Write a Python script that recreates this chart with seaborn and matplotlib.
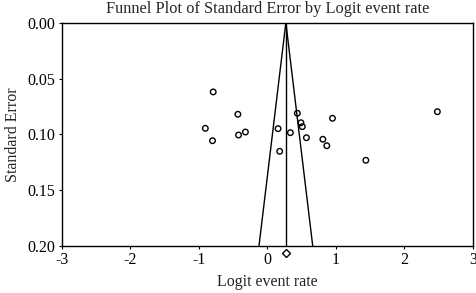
import numpy as np
import pandas as pd
import matplotlib
matplotlib.use("Agg")
import matplotlib.pyplot as plt
import seaborn as sns

# Study data (logit event rate, standard error)
logit_rate = [-0.79, -0.43, -0.905, -0.80, -0.42, -0.32, 0.156, 0.18, 0.336,
              0.438, 0.49, 0.51, 0.57, 0.81, 0.867, 0.95, 2.48, 1.437]
std_err = [0.062, 0.082, 0.0946, 0.1057, 0.1006, 0.0979, 0.0949, 0.1152, 0.0985,
           0.0811, 0.0896, 0.0931, 0.103, 0.1044, 0.1102, 0.0856, 0.0797, 0.1232]
pooled = 0.27
se_max = 0.20
x_ticks = [-3, -2, -1, 0, 1, 2, 3]
y_ticks = [0.00, 0.05, 0.10, 0.15, 0.20]

sns.set_style("ticks")
plt.rcParams['font.family'] = ['Liberation Serif', 'DejaVu Serif']

fig = plt.figure(figsize=(4.76, 2.93), dpi=100)
ax = fig.add_axes([0.1296, 0.1604, 0.8641, 0.7621])

df = pd.DataFrame({"x": logit_rate, "y": std_err})
sns.scatterplot(data=df, x="x", y="y", ax=ax, marker="o", s=16,
                facecolor="none", edgecolor="black", linewidth=1.0, zorder=3)

funnel = pd.DataFrame({
    "x": [pooled - 1.96 * se_max, pooled, pooled + 1.96 * se_max],
    "y": [se_max, 0.0, se_max],
})
ax.plot(funnel["x"], funnel["y"], color="black", lw=1.0)
ax.plot([pooled, pooled], [0.0, se_max], color="black", lw=1.0)
ax.plot([pooled], [se_max + 0.0063], marker="D", ms=4, mfc="none", mec="black",
        mew=1.0, clip_on=False, ls="none")

ax.set_xlim(-3, 3)
ax.set_ylim(se_max, 0.0)
ax.set_xticks(x_ticks)
ax.set_xticklabels([str(t) for t in x_ticks])
ax.set_yticks(y_ticks)
ax.set_yticklabels([f"{t:.2f}" for t in y_ticks])
ax.tick_params(direction="out", length=2.5, width=0.8, labelsize=11.5, pad=2,
               colors="black")
for s in ax.spines.values():
    s.set_visible(True)
    s.set_linewidth(1.0)
    s.set_color("black")

ax.set_xlabel("Logit event rate", fontsize=11.5, labelpad=4)
ax.set_ylabel("Standard Error", fontsize=11.5, labelpad=5)
ax.set_title("Funnel Plot of Standard Error by Logit event rate", fontsize=11.8, pad=7)

fig.savefig("out.png", dpi=100)
